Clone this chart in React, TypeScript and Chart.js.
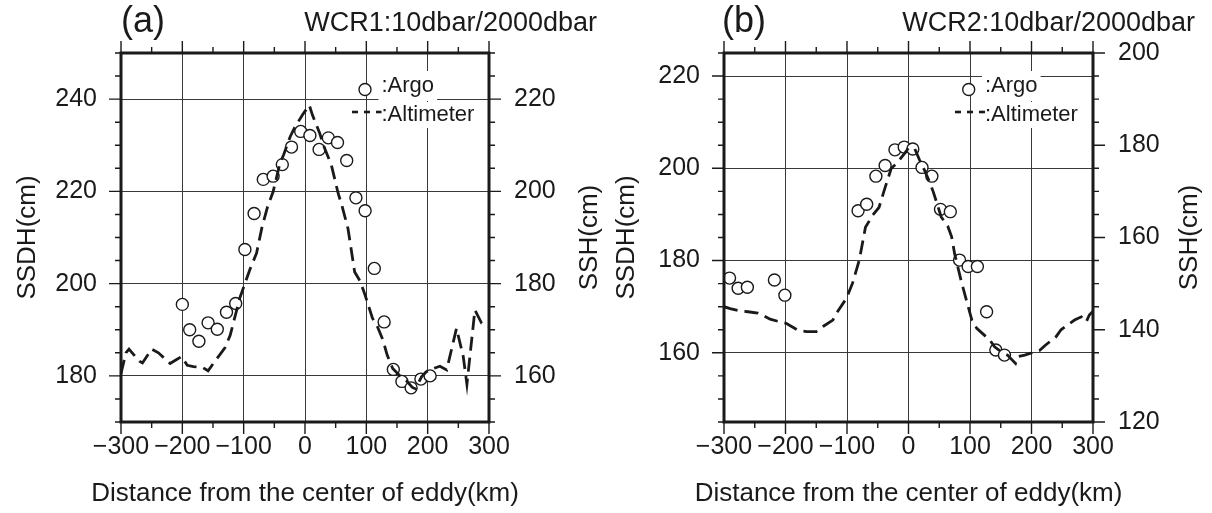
import React, { useEffect, useRef } from 'react';
import { Chart, registerables } from 'chart.js';

Chart.register(...registerables);

const FONT = '"Liberation Sans", Arial, Helvetica, sans-serif';

// ---------- Panel (a) WCR1 ----------
const argoA_km = [-200, -188, -173, -158, -143, -128, -113, -98, -83, -68, -52, -37, -22, -7, 8, 23, 38, 53, 68, 83, 98, 113, 129, 144, 158, 173, 189, 204];
const argoA_ssdh = [195.5, 190.0, 187.5, 191.5, 190.1, 193.8, 195.7, 207.4, 215.2, 222.6, 223.3, 225.8, 229.6, 233.0, 232.1, 229.1, 231.6, 230.6, 226.7, 218.6, 215.8, 203.3, 191.7, 181.4, 178.8, 177.4, 179.3, 180.0];

const altA_km = [-300, -292, -287, -270, -265, -250, -239, -220, -210, -201, -192, -182, -168, -158, -150, -130, -122, -106, -90, -79, -70, -61, -52, -41, -35, -24, -17, -11, -4, 7, 12, 24, 30, 43, 54, 60, 70, 81, 90, 98, 110, 118, 127, 134, 143, 155, 165, 175, 180, 190, 197, 203, 220, 231, 247, 258, 264, 277, 288, 300];
const altA_ssh = [160.5, 165, 165.8, 163.2, 162.8, 165.8, 165, 162.7, 163.5, 164.2, 162.3, 162, 161.9, 161.1, 162.6, 166.2, 168.8, 177, 183, 186.6, 192.3, 196.7, 199.9, 206, 207.9, 211.9, 213.8, 215.1, 216.6, 218.7, 216.6, 212.6, 210, 205.7, 199.6, 197, 192, 182.5, 180.5, 177.5, 172.5, 170.7, 167.8, 164.5, 161.6, 160, 159, 157.5, 157.2, 159.8, 160.8, 161.3, 162.1, 161.3, 170.3, 164.2, 158.2, 174.3, 171.4, 170.7];

// ---------- Panel (b) WCR2 ----------
const argoB_km = [-291, -277, -262, -218, -201, -82, -68, -53, -38, -22, -7, 7, 22, 38, 52, 68, 83, 97, 112, 127, 142, 156];
const argoB_ssdh = [176.2, 174.0, 174.2, 175.8, 172.5, 190.8, 192.2, 198.3, 200.6, 204.0, 204.6, 204.2, 200.2, 198.3, 191.1, 190.6, 180.1, 178.7, 178.7, 168.9, 160.6, 159.5];

const altB_km = [-300, -290, -274, -261, -245, -235, -225, -209, -199, -180, -166, -150, -139, -123, -117, -101, -91, -80, -70, -58, -48, -40, -34, -28, -19, -6, 0, 10, 18, 26, 34, 40, 48, 53, 64, 70, 75, 86, 94, 103, 111, 132, 140, 154, 161, 174, 178, 189, 213, 223, 240, 248, 270, 281, 289, 294, 300];
const altB_ssh = [145.0, 144.6, 144.1, 143.9, 143.6, 143.0, 142.3, 141.7, 141.4, 139.9, 139.6, 139.6, 140.7, 142.1, 143.6, 146.8, 150.1, 155.1, 162.2, 164.9, 166.5, 170.0, 172.5, 175.0, 176.1, 178.3, 179.4, 179.3, 176.8, 174.6, 172.1, 170.0, 166.7, 164.5, 162.4, 160.2, 156.5, 150.4, 146.5, 142.1, 140.3, 137.8, 136.3, 134.9, 134.5, 132.7, 134.2, 134.5, 135.5, 136.7, 138.5, 140.0, 142.1, 142.8, 141.7, 143.2, 144.0];

// ---------- axis ranges / tick labels ----------
const xRange = [-300, 300];
const xLabelStep = 100;
const xMinorStep = 50;
const yLabelStep = 20;
const yMinorStep = 5;
const leftRangeA = [170, 250];
const rightRangeA = [150, 230];
const leftRangeB = [145, 225];
const rightRangeB = [120, 200];

const titleA = ['(a)', 'WCR1:10dbar/2000dbar'];
const titleB = ['(b)', 'WCR2:10dbar/2000dbar'];
const xTitle = 'Distance from the center of eddy(km)';
const leftTitle = 'SSDH(cm)';
const rightTitle = 'SSH(cm)';
const legendLabels = [':Argo', ':Altimeter'];

const fmt = (v: number) => (v < 0 ? '\u2212' + Math.abs(v) : String(v));

type Layout = {
  leftW: number;
  rightW: number;
  panelLetterX: number;
  titleRightX: number;
  leftTitleX: number;
  rightTitleX: number;
  legendCircleX: number;
  legendTextX: number;
  legendDashX0: number;
};

function buildChart(
  canvas: HTMLCanvasElement,
  km: number[],
  ssdh: number[],
  akm: number[],
  assh: number[],
  leftR: number[],
  rightR: number[],
  titles: string[],
  L: Layout
) {
  const ink = '#1a1a1a';
  const gridCol = '#3a3a3a';

  const decor = {
    id: 'decor',
    afterDatasetsDraw(chart: any) {
      const ctx = chart.ctx as CanvasRenderingContext2D;
      const a = chart.chartArea;
      const xs = chart.scales.x;
      const ys = chart.scales.y;
      const y2 = chart.scales.y2;
      ctx.save();
      // frame
      ctx.strokeStyle = ink;
      ctx.lineWidth = 3;
      ctx.strokeRect(a.left, a.top, a.right - a.left, a.bottom - a.top);
      // tick marks
      ctx.lineWidth = 1.4;
      ctx.beginPath();
      xs.ticks.forEach((t: any) => {
        const p = xs.getPixelForValue(t.value);
        const len = t.value % xLabelStep === 0 ? 12 : 6;
        ctx.moveTo(p, a.bottom);
        ctx.lineTo(p, a.bottom + len);
        ctx.moveTo(p, a.top);
        ctx.lineTo(p, a.top - len);
      });
      ys.ticks.forEach((t: any) => {
        const p = ys.getPixelForValue(t.value);
        const len = t.value % yLabelStep === 0 ? 12 : 6;
        ctx.moveTo(a.left, p);
        ctx.lineTo(a.left - len, p);
      });
      y2.ticks.forEach((t: any) => {
        const p = y2.getPixelForValue(t.value);
        const len = t.value % yLabelStep === 0 ? 12 : 6;
        ctx.moveTo(a.right, p);
        ctx.lineTo(a.right + len, p);
      });
      ctx.stroke();

      // legend
      ctx.font = `22px ${FONT}`;
      ctx.textAlign = 'left';
      ctx.textBaseline = 'alphabetic';
      const w1 = ctx.measureText(legendLabels[0]).width;
      const w2 = ctx.measureText(legendLabels[1]).width;
      ctx.fillStyle = '#ffffff';
      ctx.fillRect(L.legendTextX - 3, 71, w1 + 6, 30);
      ctx.fillRect(L.legendTextX - 3, 102, w2 + 6, 26);
      ctx.fillStyle = ink;
      ctx.fillText(legendLabels[0], L.legendTextX, 92);
      ctx.fillText(legendLabels[1], L.legendTextX, 121);
      ctx.beginPath();
      ctx.arc(L.legendCircleX, 89.5, 6, 0, Math.PI * 2);
      ctx.fillStyle = '#ffffff';
      ctx.fill();
      ctx.lineWidth = 1.4;
      ctx.strokeStyle = ink;
      ctx.stroke();
      ctx.beginPath();
      ctx.setLineDash([6, 6]);
      ctx.lineWidth = 2.6;
      ctx.moveTo(L.legendDashX0, 112);
      ctx.lineTo(L.legendTextX, 112);
      ctx.stroke();
      ctx.setLineDash([]);

      // titles
      ctx.fillStyle = ink;
      ctx.font = `36px ${FONT}`;
      ctx.textAlign = 'left';
      ctx.fillText(titles[0], L.panelLetterX, 32);
      ctx.font = `27px ${FONT}`;
      ctx.textAlign = 'right';
      ctx.fillText(titles[1], L.titleRightX, 31);

      // axis titles
      ctx.font = `26px ${FONT}`;
      ctx.textAlign = 'center';
      ctx.textBaseline = 'middle';
      ctx.fillText(xTitle, (a.left + a.right) / 2, 494);
      const cy = (a.top + a.bottom) / 2;
      [[L.leftTitleX, leftTitle], [L.rightTitleX, rightTitle]].forEach(([x, s]) => {
        ctx.save();
        ctx.translate(x as number, cy);
        ctx.rotate(-Math.PI / 2);
        ctx.fillText(s as string, 0, 0);
        ctx.restore();
      });
      ctx.restore();
    },
  };

  const tickFont = { family: FONT, size: 25 };

  return new Chart(canvas, {
    type: 'scatter',
    data: {
      datasets: [
        {
          label: 'Altimeter',
          data: akm.map((x, i) => ({ x, y: assh[i] })),
          yAxisID: 'y2',
          showLine: true,
          borderColor: ink,
          borderWidth: 2.8,
          borderDash: [14, 7],
          pointRadius: 0,
          tension: 0,
        },
        {
          label: 'Argo',
          data: km.map((x, i) => ({ x, y: ssdh[i] })),
          yAxisID: 'y',
          pointRadius: 6,
          pointBorderWidth: 1.4,
          pointBorderColor: ink,
          pointBackgroundColor: '#ffffff',
          borderColor: ink,
          backgroundColor: '#ffffff',
        },
      ],
    },
    options: {
      responsive: false,
      animation: false,
      devicePixelRatio: 1,
      layout: { padding: { top: 53, left: 0, right: 0, bottom: 0 } },
      plugins: { legend: { display: false }, tooltip: { enabled: false } },
      scales: {
        x: {
          type: 'linear',
          position: 'bottom',
          min: xRange[0],
          max: xRange[1],
          afterFit: (s: any) => {
            s.height = 91;
          },
          ticks: {
            stepSize: xMinorStep,
            autoSkip: false,
            maxRotation: 0,
            padding: 10,
            color: ink,
            font: tickFont,
            callback: (v: any) => (Number(v) % xLabelStep === 0 ? fmt(Number(v)) : ''),
          },
          grid: {
            drawTicks: false,
            lineWidth: 1,
            color: (c: any) =>
              c.tick && c.tick.value % xLabelStep === 0 && Math.abs(c.tick.value) < xRange[1] ? gridCol : 'rgba(0,0,0,0)',
          },
          border: { display: false },
        },
        y: {
          type: 'linear',
          position: 'left',
          min: leftR[0],
          max: leftR[1],
          afterFit: (s: any) => {
            s.width = L.leftW;
          },
          ticks: {
            stepSize: yMinorStep,
            autoSkip: false,
            padding: 24,
            color: ink,
            font: tickFont,
            callback: (v: any) => (Number(v) % yLabelStep === 0 ? fmt(Number(v)) : ''),
          },
          grid: {
            drawTicks: false,
            lineWidth: 1,
            color: (c: any) =>
              c.tick && c.tick.value % yLabelStep === 0 && c.tick.value > leftR[0] && c.tick.value < leftR[1]
                ? gridCol
                : 'rgba(0,0,0,0)',
          },
          border: { display: false },
        },
        y2: {
          type: 'linear',
          position: 'right',
          min: rightR[0],
          max: rightR[1],
          afterFit: (s: any) => {
            s.width = L.rightW;
          },
          ticks: {
            stepSize: yMinorStep,
            autoSkip: false,
            padding: 25,
            color: ink,
            font: tickFont,
            callback: (v: any) => (Number(v) % yLabelStep === 0 ? fmt(Number(v)) : ''),
          },
          grid: { display: false, drawTicks: false },
          border: { display: false },
        },
      },
    },
    plugins: [decor],
  } as any);
}

const layoutA: Layout = {
  leftW: 121,
  rightW: 117,
  panelLetterX: 121,
  titleRightX: 597,
  leftTitleX: 28,
  rightTitleX: 590,
  legendCircleX: 365,
  legendTextX: 381.5,
  legendDashX0: 352,
};
const layoutB: Layout = {
  leftW: 118,
  rightW: 119,
  panelLetterX: 116,
  titleRightX: 589,
  leftTitleX: 21,
  rightTitleX: 584,
  legendCircleX: 362.7,
  legendTextX: 379,
  legendDashX0: 349,
};

export default function App() {
  const refA = useRef<HTMLCanvasElement>(null);
  const refB = useRef<HTMLCanvasElement>(null);
  useEffect(() => {
    const ca = buildChart(refA.current!, argoA_km, argoA_ssdh, altA_km, altA_ssh, leftRangeA, rightRangeA, titleA, layoutA);
    const cb = buildChart(refB.current!, argoB_km, argoB_ssdh, altB_km, altB_ssh, leftRangeB, rightRangeB, titleB, layoutB);
    return () => {
      ca.destroy();
      cb.destroy();
    };
  }, []);
  return (
    <div style={{ position: 'absolute', left: 0, top: 0, width: 1212, height: 513, background: '#fff', display: 'flex' }}>
      <canvas ref={refA} width={606} height={513} style={{ width: 606, height: 513, display: 'block' }} />
      <canvas ref={refB} width={606} height={513} style={{ width: 606, height: 513, display: 'block' }} />
    </div>
  );
}
